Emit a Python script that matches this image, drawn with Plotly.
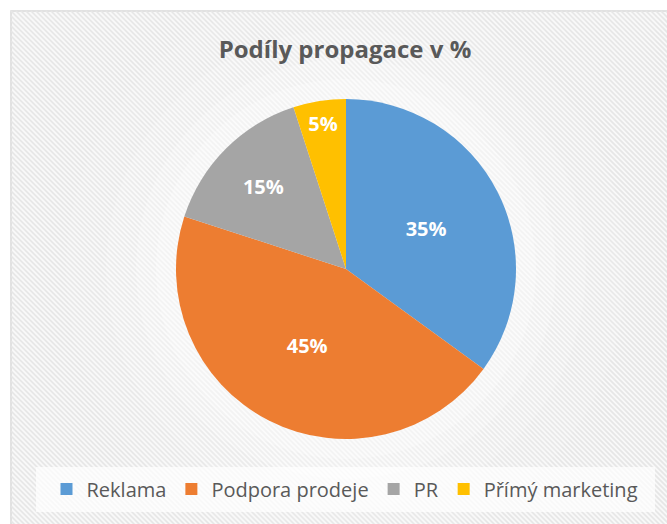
import plotly.graph_objects as go

labels = ["Reklama", "Podpora prodeje", "PR", "Přímý marketing"]
values = [35, 45, 15, 5]
colors = ["#5B9BD5", "#ED7D31", "#A5A5A5", "#FFC000"]
title_text = "Podíly propagace v %"

W, H = 667, 524
FONT = "Open Sans"

def px(x):
    return x / W

def py(y):
    return 1 - y / H

# striped chart-area background
x0, y0, x1, y1 = 11, 11, W + 2, H + 2
segs = []
c = -(y1 - x0)
step = 5
while c < x1 - y0:
    pts = []
    ya = x0 - c
    if y0 <= ya <= y1:
        pts.append((x0, ya))
    yb = x1 - c
    if y0 <= yb <= y1:
        pts.append((x1, yb))
    xa = y0 + c
    if x0 <= xa <= x1:
        pts.append((xa, y0))
    xb = y1 + c
    if x0 <= xb <= x1:
        pts.append((xb, y1))
    if len(pts) >= 2:
        pts.sort()
        (ax, ay), (bx, by) = pts[0], pts[-1]
        segs.append(f"M{px(ax):.5f},{py(ay):.5f}L{px(bx):.5f},{py(by):.5f}")
    c += step

shapes = [
    dict(type="rect", xref="paper", yref="paper", x0=px(x0), y0=py(y1), x1=px(x1), y1=py(y0),
         fillcolor="#F8F8F8", line=dict(color="#D9D9D9", width=1.5), layer="below"),
    dict(type="path", xref="paper", yref="paper", path="".join(segs),
         line=dict(color="#E6E6E6", width=1.6), layer="below"),
]
cx, cy = 346, 269
for r, op in [(280, 0.1), (240, 0.14), (210, 0.2), (190, 0.28)]:
    shapes.append(dict(type="circle", xref="paper", yref="paper",
                       x0=px(cx - r), x1=px(cx + r), y0=py(cy + r), y1=py(cy - r),
                       fillcolor="white", opacity=op, line=dict(width=0), layer="below"))
shapes.append(dict(type="rect", xref="paper", yref="paper",
                   x0=px(36), x1=px(655), y0=py(512), y1=py(467),
                   fillcolor="white", opacity=0.7, line=dict(width=0), layer="below"))

fig = go.Figure(go.Pie(
    labels=labels,
    values=values,
    marker=dict(colors=colors, line=dict(width=0)),
    sort=False,
    direction="clockwise",
    rotation=0,
    textinfo="percent",
    textposition="inside",
    insidetextorientation="horizontal",
    textfont=dict(family=FONT, size=20, color="white", weight="bold"),
    domain=dict(x=[px(cx - 170), px(cx + 170)], y=[py(cy + 170), py(cy - 170)]),
    hoverinfo="label+percent",
))

fig.update_layout(
    width=W, height=H,
    margin=dict(l=0, r=0, t=0, b=0),
    paper_bgcolor="white",
    title=dict(text=f"<b>{title_text}</b>", x=px(345), xanchor="center",
               y=py(50), yanchor="middle",
               font=dict(family=FONT, size=24, color="#595959")),
    legend=dict(orientation="h", x=px(345), xanchor="center", y=py(489), yanchor="middle",
                font=dict(family=FONT, size=20, color="#595959"),
                bgcolor="rgba(0,0,0,0)", itemwidth=30, traceorder="normal"),
    shapes=shapes,
)

fig.write_html("out.html")
